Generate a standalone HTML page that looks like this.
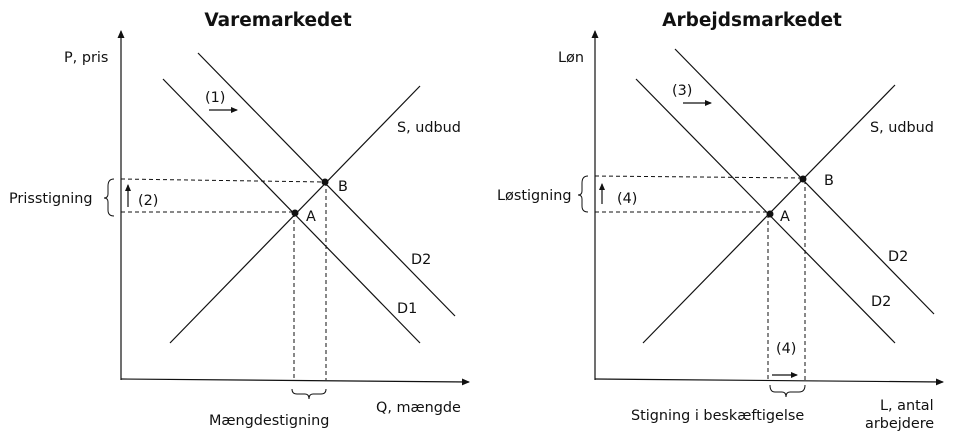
<!DOCTYPE html>
<html><head><meta charset="utf-8"><style>
html,body{margin:0;padding:0;background:#fff;width:960px;height:447px;overflow:hidden}
svg text{font-family:"DejaVu Sans","Liberation Sans",sans-serif;font-size:14.4px;fill:#111}
</style></head><body>
<svg width="960" height="447" viewBox="0 0 960 447" xmlns="http://www.w3.org/2000/svg">
<defs>
<marker id="ah" markerWidth="8" markerHeight="8" refX="7" refY="4" orient="auto" markerUnits="userSpaceOnUse">
<path d="M0,0.5 L8,4 L0,7.5 z" fill="#111"/></marker>
<marker id="sh" markerWidth="7" markerHeight="6" refX="6" refY="3" orient="auto" markerUnits="userSpaceOnUse">
<path d="M0,0 L7,3 L0,6 z" fill="#111"/></marker>
</defs>
<g stroke="#111" stroke-width="1.2" fill="none">
<line x1="121" y1="380" x2="121" y2="31" marker-end="url(#ah)"/>
<line x1="121" y1="379" x2="469" y2="382" marker-end="url(#ah)"/>
<line x1="163" y1="79" x2="420" y2="343"/>
<line x1="198" y1="53" x2="455" y2="316"/>
<line x1="170" y1="343" x2="420" y2="86"/>
<g stroke-dasharray="4,3" stroke-width="1">
<line x1="121" y1="179" x2="325" y2="182"/>
<line x1="121" y1="212" x2="295" y2="212"/>
<line x1="294" y1="213" x2="294" y2="380"/>
<line x1="326" y1="182" x2="326" y2="380"/>
</g>
<line x1="209" y1="110" x2="237" y2="110" marker-end="url(#sh)"/>
<line x1="128" y1="207" x2="128" y2="185" marker-end="url(#sh)"/>
<path d="M114,179 Q108,179 108,186 L108,194 Q108,198 104,198 Q108,198 108,202 L108,210 Q108,216 114,216" stroke-width="1"/>
<path d="M292,389 Q292,394 297,394 L305,394 Q309,394 309,399 Q309,394 313,394 L321,394 Q326,394 326,389" stroke-width="1"/>
<line x1="595" y1="380" x2="595" y2="31" marker-end="url(#ah)"/>
<line x1="595" y1="379" x2="943" y2="382" marker-end="url(#ah)"/>
<line x1="636" y1="79" x2="895" y2="343"/>
<line x1="675" y1="49" x2="934" y2="314"/>
<line x1="643" y1="343" x2="895" y2="85"/>
<g stroke-dasharray="4,3" stroke-width="1">
<line x1="595" y1="176" x2="803" y2="178"/>
<line x1="595" y1="212" x2="770" y2="212"/>
<line x1="768" y1="214" x2="768" y2="380"/>
<line x1="805" y1="180" x2="805" y2="380"/>
</g>
<line x1="683" y1="103" x2="711" y2="103" marker-end="url(#sh)"/>
<line x1="602" y1="204" x2="602" y2="184" marker-end="url(#sh)"/>
<line x1="772" y1="375" x2="797" y2="375" marker-end="url(#sh)"/>
<path d="M588,176 Q582,176 582,183 L582,191 Q582,195 578,195 Q582,195 582,199 L582,206 Q582,212 588,212" stroke-width="1"/>
<path d="M770,385 Q770,392 775,392 L782,392 Q786,392 786,397 Q786,392 790,392 L799,392 Q805,392 805,385" stroke-width="1"/>
</g>
<circle cx="295" cy="213" r="3.5" fill="#111"/>
<circle cx="325" cy="182" r="3.5" fill="#111"/>
<circle cx="770" cy="214" r="3.5" fill="#111"/>
<circle cx="803" cy="179" r="3.5" fill="#111"/>

<text x="278" y="26" text-anchor="middle" style="font-size:18.5px;font-weight:bold">Varemarkedet</text>
<text x="64" y="62">P, pris</text>
<text x="205" y="102">(1)</text>
<text x="397" y="132">S, udbud</text>
<text x="338" y="191">B</text>
<text x="306" y="221">A</text>
<text x="411" y="264">D2</text>
<text x="397" y="313">D1</text>
<text x="9" y="203">Prisstigning</text>
<text x="138" y="205">(2)</text>
<text x="376" y="412">Q, mængde</text>
<text x="209" y="425">Mængdestigning</text>

<text x="752" y="26" text-anchor="middle" style="font-size:18.5px;font-weight:bold">Arbejdsmarkedet</text>
<text x="558" y="62">Løn</text>
<text x="672" y="95">(3)</text>
<text x="870" y="132">S, udbud</text>
<text x="824" y="185">B</text>
<text x="780" y="221">A</text>
<text x="888" y="261">D2</text>
<text x="871" y="306">D2</text>
<text x="497" y="200">Løstigning</text>
<text x="617" y="203">(4)</text>
<text x="776" y="353">(4)</text>
<text x="631" y="420">Stigning i beskæftigelse</text>
<text x="880" y="410">L, antal</text>
<text x="865" y="428">arbejdere</text>
</svg>
</body></html>
